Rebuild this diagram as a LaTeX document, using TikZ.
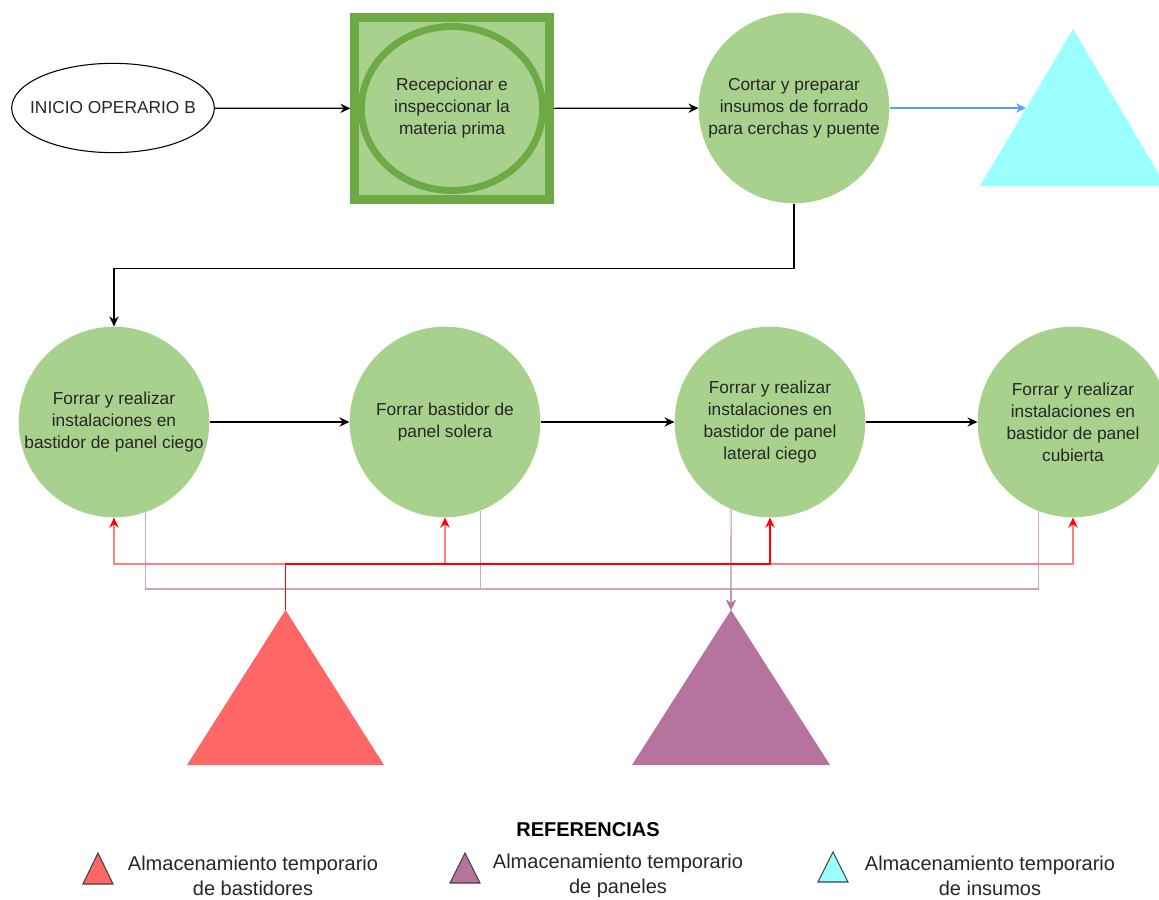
\documentclass[tikz,border=0pt]{standalone}
\usepackage{fontspec}
\setmainfont{Liberation Sans}
\usepackage{xcolor}
\usetikzlibrary{arrows.meta, shapes.geometric}

\definecolor{procgreen}{HTML}{A9D18E}
\definecolor{edgegreen}{HTML}{6DAA45}
\definecolor{storecyan}{HTML}{99FFFF}
\definecolor{storered}{HTML}{FF6666}
\definecolor{storepurple}{HTML}{B5739D}
\definecolor{flowblue}{HTML}{4DA3FF}
\definecolor{txt}{HTML}{262626}

\tikzset{
  proc/.style={circle, fill=procgreen, minimum size=143pt, inner sep=0pt,
    align=center, text=txt, font=\fontsize{13}{16.5}\selectfont},
  flow/.style={-{Stealth[length=7.5pt, width=7pt, inset=2.5pt]}, line width=0.9pt},
  redflow/.style={-{Stealth[length=7.5pt, width=7pt, inset=2.5pt, color=red]},
    draw=red!50, line width=1.4pt},
  purflow/.style={-{Stealth[length=7.5pt, width=7pt, inset=2.5pt, color=storepurple]},
    draw=storepurple!65, line width=0.9pt},
  legtri/.style={draw=black!75, line width=0.8pt},
  legtext/.style={align=center, text=txt, font=\fontsize{15}{18.75}\selectfont}
}

\begin{document}
\begin{tikzpicture}[x=0.75pt, y=-0.75pt]
  \useasboundingbox (0,0) rectangle (1159,899);

  % first row
  \node[ellipse, draw, line width=0.8pt, minimum width=152pt, minimum height=67pt,
    inner xsep=-12pt, inner ysep=0pt, text=txt,
    font=\fontsize{13}{16.5}\selectfont] at (113,108) (start) {INICIO OPERARIO B};
  \node[rectangle, fill=procgreen, draw=edgegreen, line width=6.5pt, minimum width=146pt,
    minimum height=136pt, inner sep=0pt, align=center, text=txt,
    font=\fontsize{13}{16.5}\selectfont] at (452,108.5) (recv) {Recepcionar e\\inspeccionar la\\materia prima};
  \draw[edgegreen, line width=5.25pt] (recv.center) ellipse [x radius=68pt, y radius=61.5pt];
  \node[proc] at (794,108) (cut) {Cortar y preparar\\insumos de forrado\\para cerchas y puente};

  % storage of supplies
  \fill[storecyan] (1073,29) -- (1166,186) -- (980,186) -- cycle;
  \coordinate (cyanin) at (1026,108);

  % second row
  \node[proc] at (114,422) (blind) {Forrar y realizar\\instalaciones en\\bastidor de panel ciego};
  \node[proc] at (445,422) (sole) {Forrar bastidor de\\panel solera};
  \node[proc] at (770,422) (side) {Forrar y realizar\\instalaciones en\\bastidor de panel\\lateral ciego};
  \node[proc] at (1073,422) (roof) {Forrar y realizar\\instalaciones en\\bastidor de panel\\cubierta};

  % storage of frames and panels
  \coordinate (redtop) at (285.5,610);
  \coordinate (purtop) at (731,610);
  \fill[storered] (redtop) -- ++(98.5,155) -- ++(-197,0) -- cycle;
  \fill[storepurple] (purtop) -- ++(99,155) -- ++(-198,0) -- cycle;
  \coordinate (redjoin) at (285.5,564);
  \coordinate (purjoin) at (731,589);

  \draw[flow] (start) -- (recv);
  \draw[flow] (recv) -- (cut);
  \draw[flow, flowblue] (cut) -- (cyanin);
  \draw[flow] (cut.south) -- ++(0,65) -| (blind.north);
  \draw[flow] (blind) -- (sole);
  \draw[flow] (sole) -- (side);
  \draw[flow] (side) -- (roof);

  % panels go down to storage
  \draw[purflow] (blind.-71) |- (purjoin) -- (purtop);
  \draw[purflow] (sole.-68) |- (purjoin) -- (purtop);
  \draw[purflow] (roof.-111) |- (purjoin) -- (purtop);
  \draw[purflow, draw=storepurple!85] (side.-114) -- (purtop);

  % frames go up to each station
  \foreach \n in {blind, sole, roof}
    \draw[redflow] (redtop) -- (redjoin) -| (\n.south);
  \draw[redflow, draw=red] (redtop) -- (redjoin) -| (side.south);

  % legend
  \node[font=\bfseries\fontsize{15}{18}\selectfont] at (588,830) (refs) {REFERENCIAS};
  \draw[legtri, fill=storered] (98,853) -- (113,884) -- (83,884) -- cycle;
  \node[legtext] at (253,875.5) (legred) {Almacenamiento temporario\\de bastidores};
  \draw[legtri, fill=storepurple] (465,853) -- (480,883) -- (450,883) -- cycle;
  \node[legtext] at (618,875.5) (legpur) {Almacenamiento temporario\\de paneles};
  \draw[legtri, fill=storecyan] (833,852) -- (848,882) -- (818,882) -- cycle;
  \node[legtext] at (990,876) (legcyan) {Almacenamiento temporario\\de insumos};
\end{tikzpicture}
\end{document}
